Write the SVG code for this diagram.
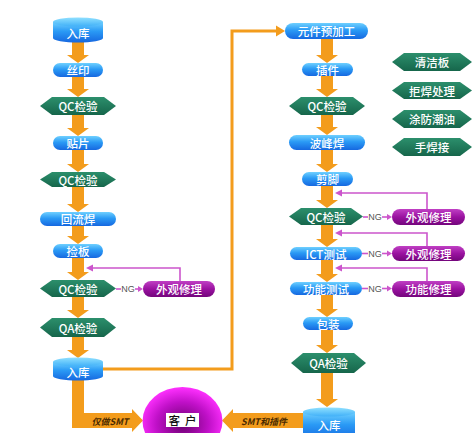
<svg xmlns="http://www.w3.org/2000/svg" width="474" height="433" viewBox="0 0 474 433">
<defs>
<linearGradient id="gBlue" x1="0" y1="0" x2="0" y2="1">
<stop offset="0" stop-color="#6fd0ff"/><stop offset="0.45" stop-color="#2a9af5"/><stop offset="1" stop-color="#1668e0"/>
</linearGradient>
<linearGradient id="gCylTop" x1="0" y1="0" x2="0" y2="1">
<stop offset="0" stop-color="#8fe0ff"/><stop offset="1" stop-color="#40b0f8"/>
</linearGradient>
<linearGradient id="gGreen" x1="0" y1="0" x2="0" y2="1">
<stop offset="0" stop-color="#2c8f6c"/><stop offset="1" stop-color="#16664b"/>
</linearGradient>
<linearGradient id="gPurple" x1="0" y1="0" x2="0" y2="1">
<stop offset="0" stop-color="#c040c4"/><stop offset="0.5" stop-color="#9a12a0"/><stop offset="1" stop-color="#74067c"/>
</linearGradient>
<radialGradient id="gCust" cx="0.5" cy="0.55" r="0.55">
<stop offset="0" stop-color="#6a006e"/><stop offset="0.6" stop-color="#c010c8"/><stop offset="1" stop-color="#ff30ff"/>
</radialGradient>
</defs>
<style>
.pill{fill:url(#gBlue);}
.hex{fill:url(#gGreen);}
.rep{fill:url(#gPurple);}
.cyl{fill:url(#gBlue);}
.cyltop{fill:url(#gCylTop);}
.t{font-family:"Noto Sans CJK SC","Noto Sans",sans-serif;font-size:11.5px;font-weight:500;fill:#ffffff;text-anchor:middle;dominant-baseline:central;}
.ar{fill:#f39c1c;}
.thin{fill:none;stroke:#f39c1c;stroke-width:3;}
.loop{fill:none;stroke:#cc55cc;stroke-width:1.6;}
.ph{fill:#cc55cc;}
.ng{font-family:"Liberation Sans",sans-serif;font-size:9px;fill:#555555;text-anchor:middle;dominant-baseline:central;}
.lbl{font-family:"Noto Sans CJK SC","Noto Sans",sans-serif;font-size:9px;font-style:italic;font-weight:bold;fill:#4a2a00;text-anchor:middle;dominant-baseline:central;}
</style>
<rect width="474" height="433" fill="#ffffff"/>

<g id="connectors">
<polygon class="ar" points="72,42 84,42 84,55 89,55 78,63 67,55 72,55"/>
<polygon class="ar" points="72,77 84,77 84,89 89,89 78,97 67,89 72,89"/>
<polygon class="ar" points="72,115 84,115 84,128 89,128 78,136 67,128 72,128"/>
<polygon class="ar" points="72,150 84,150 84,164 89,164 78,172 67,164 72,164"/>
<polygon class="ar" points="72,187 84,187 84,204 89,204 78,212 67,204 72,204"/>
<polygon class="ar" points="72,226 84,226 84,236 89,236 78,244 67,236 72,236"/>
<polygon class="ar" points="72,258 84,258 84,272 89,272 78,280 67,272 72,272"/>
<polygon class="ar" points="72,297 84,297 84,310 89,310 78,318 67,310 72,310"/>
<polygon class="ar" points="72,337 84,337 84,350 89,350 78,358 67,350 72,350"/>
<polygon class="ar" points="321,39 333,39 333,55 338,55 327,63 316,55 321,55"/>
<polygon class="ar" points="321,76 333,76 333,89 338,89 327,97 316,89 321,89"/>
<polygon class="ar" points="321,115 333,115 333,127 338,127 327,135 316,127 321,127"/>
<polygon class="ar" points="321,150 333,150 333,164 338,164 327,172 316,164 321,164"/>
<polygon class="ar" points="321,186 333,186 333,200 338,200 327,208 316,200 321,200"/>
<polygon class="ar" points="321,225 333,225 333,239 338,239 327,247 316,239 321,239"/>
<polygon class="ar" points="321,260 333,260 333,274 338,274 327,282 316,274 321,274"/>
<polygon class="ar" points="321,294 333,294 333,309 338,309 327,317 316,309 321,309"/>
<polygon class="ar" points="321,330 333,330 333,345 338,345 327,353 316,345 321,345"/>
<polygon class="ar" points="321,373 333,373 333,399 338,399 327,407 316,399 321,399"/>
<polyline class="thin" points="103,369 232,369 232,31 277,31"/>
<polygon class="ar" points="276,25.5 285,31 276,36.5"/>
<path class="ar" d="M72,380 L84,380 L84,413 L132,413 L132,409 L143,420.5 L132,432 L132,428 L72,428 Z"/>
<text class="lbl" x="110" y="421">仅做SMT</text>
<path class="ar" d="M304,413 L233,413 L233,409 L222,420.5 L233,432 L233,428 L304,428 Z"/>
<text class="lbl" x="264" y="421">SMT和插件</text>
<polyline class="loop" points="180,282 180,268 92,268"/>
<polygon class="ph" points="86,268 93,264.5 93,271.5"/>
<polyline class="loop" points="427,210 427,193 341,193"/>
<polygon class="ph" points="335,193 342,189.5 342,196.5"/>
<polyline class="loop" points="427,247 427,233 341,233"/>
<polygon class="ph" points="335,233 342,229.5 342,236.5"/>
<polyline class="loop" points="427,282 427,268 341,268"/>
<polygon class="ph" points="335,268 342,264.5 342,271.5"/>
<line class="loop" x1="116" y1="289" x2="121" y2="289"/>
<text class="ng" x="128" y="289">NG</text>
<line class="loop" x1="135" y1="289" x2="139" y2="289"/>
<polygon class="ph" points="143,289 138,286 138,292"/>
<line class="loop" x1="363" y1="217" x2="368" y2="217"/>
<text class="ng" x="375" y="217">NG</text>
<line class="loop" x1="382" y1="217" x2="388" y2="217"/>
<polygon class="ph" points="392,217 387,214 387,220"/>
<line class="loop" x1="362" y1="253.5" x2="368" y2="253.5"/>
<text class="ng" x="375" y="253.5">NG</text>
<line class="loop" x1="382" y1="253.5" x2="388" y2="253.5"/>
<polygon class="ph" points="392,253.5 387,250.5 387,256.5"/>
<line class="loop" x1="362" y1="288.5" x2="368" y2="288.5"/>
<text class="ng" x="375" y="288.5">NG</text>
<line class="loop" x1="382" y1="288.5" x2="388" y2="288.5"/>
<polygon class="ph" points="392,288.5 387,285.5 387,291.5"/>
</g>

<g id="n-ruku1">
<path class="cyl" d="M53,22 L53,38 A25,4.5 0 0 0 103,38 L103,22 Z"/>
<ellipse class="cyltop" cx="78" cy="22" rx="25" ry="4.5"/>
<text class="t" x="78" y="33">入库</text>
</g>
<g id="n-siyin"><rect class="pill" x="53" y="63" width="50" height="14" rx="7"/><text class="t" x="78" y="70">丝印</text></g>
<g id="n-qc1"><polygon class="hex" points="40,106 52,97 104,97 116,106 104,115 52,115"/><text class="t" x="78" y="106">QC检验</text></g>
<g id="n-tiepian"><rect class="pill" x="53" y="136" width="50" height="14" rx="7"/><text class="t" x="78" y="143">贴片</text></g>
<g id="n-qc2"><polygon class="hex" points="40,179.5 52,172 104,172 116,179.5 104,187 52,187"/><text class="t" x="78" y="179.5">QC检验</text></g>
<g id="n-huiliu"><rect class="pill" x="40" y="212" width="76" height="14" rx="7"/><text class="t" x="78" y="219">回流焊</text></g>
<g id="n-jianban"><rect class="pill" x="53" y="244" width="50" height="14" rx="7"/><text class="t" x="78" y="251">捡板</text></g>
<g id="n-qc3"><polygon class="hex" points="40,288.5 52,280 104,280 116,288.5 104,297 52,297"/><text class="t" x="78" y="288.5">QC检验</text></g>
<g id="n-rep1"><rect class="rep" x="143" y="281" width="72" height="16" rx="8"/><text class="t" x="179" y="289">外观修理</text></g>
<g id="n-qa1"><polygon class="hex" points="40,327.5 52,318 104,318 116,327.5 104,337 52,337"/><text class="t" x="78" y="327.5">QA检验</text></g>
<g id="n-ruku2">
<path class="cyl" d="M53,362 L53,376 A25,4.5 0 0 0 103,376 L103,362 Z"/>
<ellipse class="cyltop" cx="78" cy="362" rx="25" ry="4.5"/>
<text class="t" x="78" y="372">入库</text>
</g>

<g id="n-kehu">
<ellipse cx="182.5" cy="421" rx="40" ry="34" fill="url(#gCust)"/>
<rect x="166" y="413" width="33" height="14" fill="#ffffff"/>
<text class="t" x="182.5" y="420" style="fill:#111111" xml:space="preserve">客  户</text>
</g>

<g id="n-yujiagong"><rect class="pill" x="285" y="23" width="83" height="16" rx="8"/><text class="t" x="326.5" y="31">元件预加工</text></g>
<g id="n-chajian"><rect class="pill" x="302" y="63" width="51" height="13" rx="6.5"/><text class="t" x="327.5" y="69.5">插件</text></g>
<g id="n-qc4"><polygon class="hex" points="289,106 301,97 353,97 365,106 353,115 301,115"/><text class="t" x="327" y="106">QC检验</text></g>
<g id="n-bofeng"><rect class="pill" x="289" y="135" width="76" height="15" rx="7.5"/><text class="t" x="327" y="142.5">波峰焊</text></g>
<g id="n-jianjiao"><rect class="pill" x="302" y="172" width="51" height="14" rx="7"/><text class="t" x="327.5" y="179">剪脚</text></g>
<g id="n-qc5"><polygon class="hex" points="289,216.5 301,208 351,208 363,216.5 351,225 301,225"/><text class="t" x="326" y="216.5">QC检验</text></g>
<g id="n-rep2"><rect class="rep" x="392" y="209" width="73" height="16" rx="8"/><text class="t" x="428.5" y="217">外观修理</text></g>
<g id="n-ict"><rect class="pill" x="290" y="247" width="72" height="13" rx="6.5"/><text class="t" x="326" y="253.5">ICT测试</text></g>
<g id="n-rep3"><rect class="rep" x="392" y="246" width="73" height="15" rx="7.5"/><text class="t" x="428.5" y="253.5">外观修理</text></g>
<g id="n-gongneng"><rect class="pill" x="290" y="282" width="72" height="13" rx="6.5"/><text class="t" x="326" y="288.5">功能测试</text></g>
<g id="n-rep4"><rect class="rep" x="392" y="281" width="73" height="16" rx="8"/><text class="t" x="428.5" y="289">功能修理</text></g>
<g id="n-baozhuang"><rect class="pill" x="303" y="317" width="50" height="13" rx="6.5"/><text class="t" x="328" y="323.5">包装</text></g>
<g id="n-qa2"><polygon class="hex" points="291,363 303,353 354,353 366,363 354,373 303,373"/><text class="t" x="328.5" y="363">QA检验</text></g>
<g id="n-ruku3">
<path class="cyl" d="M303,412 L303,440 L355,440 L355,412 Z"/>
<ellipse class="cyltop" cx="329" cy="412" rx="26" ry="4.5"/>
<text class="t" x="329" y="425">入库</text>
</g>

<g id="l-qingjie"><polygon class="hex" points="392,62 404,53 460,53 472,62 460,71 404,71"/><text class="t" x="432" y="62">清洁板</text></g>
<g id="l-juhan"><polygon class="hex" points="392,90.5 404,82 460,82 472,90.5 460,99 404,99"/><text class="t" x="432" y="90.5">拒焊处理</text></g>
<g id="l-tufang"><polygon class="hex" points="392,119 404,110 460,110 472,119 460,128 404,128"/><text class="t" x="432" y="119">涂防潮油</text></g>
<g id="l-shouhan"><polygon class="hex" points="392,147 404,138 460,138 472,147 460,156 404,156"/><text class="t" x="432" y="147">手焊接</text></g>
</svg>
